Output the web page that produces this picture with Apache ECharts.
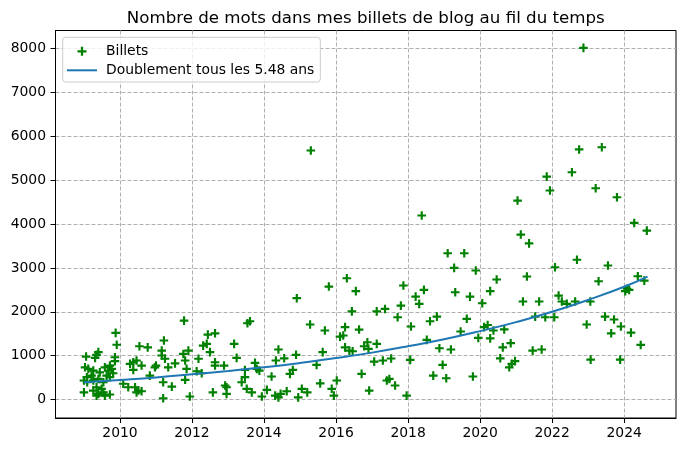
<!DOCTYPE html>
<html>
<head>
<meta charset="utf-8">
<script src="https://cdn.jsdelivr.net/npm/echarts@6/dist/echarts.min.js"></script>
<style>
html,body{margin:0;padding:0;background:#fff;}
#chart{width:685px;height:449px;}
</style>
</head>
<body>
<div id="chart"></div>
<script>
var titleText = 'Nombre de mots dans mes billets de blog au fil du temps';
var seriesNames = ['Billets', 'Doublement tous les 5.48 ans'];

var postYears = [
2009.88,2009.91,2010.54,2010.77,2009.40,2009.35,2009.06,2009.31,2009.86,2009.86,
2009.72,2009.58,2009.03,2009.12,2009.26,2009.44,2009.68,2009.77,2009.81,2009.63,
2009.72,2009.21,2009.08,2009.00,2009.09,2009.26,2009.40,2009.54,2009.00,2009.26,
2009.35,2009.49,2009.54,2009.40,2009.58,2009.72,2009.35,2010.28,2010.37,2010.46,
2010.60,2010.37,2011.00,2010.83,2010.09,2010.23,2010.42,2010.51,2010.46,2010.60,
2011.78,2011.22,2011.16,2011.16,2011.25,2011.53,2011.76,2011.90,2011.81,2012.44,
2012.64,2012.31,2012.41,2012.50,2012.18,2012.64,2012.64,2011.85,2012.13,2012.27,
2011.34,2010.97,2011.20,2011.44,2011.81,2011.20,2011.94,2012.58,
2016.44,2013.61,2013.54,2015.28,2015.69,2016.25,2016.20,2016.11,2016.64,2013.17,
2013.24,2014.40,2014.89,2014.33,2014.56,2015.63,2016.25,2016.37,2016.46,2016.78,
2016.87,2012.89,2013.75,2013.80,2013.87,2013.47,2013.47,2013.38,2014.21,2014.80,
2014.72,2015.46,2016.71,2016.02,2015.56,2012.92,2012.96,2012.96,2013.52,2013.66,
2014.08,2013.94,2014.31,2014.40,2014.46,2014.63,2015.05,2015.20,2014.95,2015.88,
2015.94,2016.92,2014.91,2015.80,2016.30,2016.55,2017.87,2018.21,2017.80,2017.36,
2015.30,2017.13,2018.31,2020.06,2017.71,2018.08,2018.61,2018.80,2019.63,2019.46,
2020.11,2020.21,2020.37,2020.67,2019.95,2020.28,2020.63,2020.85,2016.90,2017.13,
2018.52,2018.87,2019.19,2017.06,2017.30,2017.53,2018.06,2018.96,2018.70,2019.06,
2019.80,2020.56,2020.81,2020.88,2020.97,2017.41,2017.48,2017.64,2017.96,
2021.19,2021.64,2022.27,2022.41,2022.64,2023.06,2021.53,2021.81,2022.06,2022.96,
2023.47,2023.72,2023.91,2023.64,2024.19,2024.46,2021.46,2021.71,2023.07,2023.89,
2021.85,2022.55,2021.94,2021.04,2023.21,2023.80,2024.28,2024.63,2021.13,2021.36,
2022.69,2022.08,2023.55,2021.30,2023.29,2024.38,2024.56,2024.08,2024.03,2024.14,
2022.18,2018.38,2019.10,2019.56,2019.28,2019.88,2020.46,2018.44,2019.31,2019.72,
2020.28,2022.87,2022.75,2023.38
];
var postWords = [
1520,1250,1215,1190,1080,1020,980,950,965,875,
775,735,735,700,660,620,660,700,600,545,
510,545,510,435,395,435,470,395,165,205,
280,245,165,130,90,115,90,815,850,890,
775,675,775,545,360,280,280,205,165,190,
1800,1345,1115,1005,930,825,1040,1115,890,1480,
1510,1230,1270,1080,930,850,775,700,645,600,
735,735,395,295,450,30,70,165,
2010,1785,1740,1710,1575,1650,1460,1435,1595,1270,
950,1140,1020,890,940,1080,1190,1115,1100,1215,
1305,775,835,700,660,675,510,395,525,675,
585,790,585,435,370,320,280,130,245,165,
220,70,90,50,130,190,245,165,50,245,
90,205,2310,2575,2765,2470,2600,2345,2140,2065,
5675,2010,2180,2195,1875,1665,1785,1890,1840,1550,
1650,1700,1575,1600,1405,1395,1190,1285,1155,1270,
1360,1170,1140,865,890,935,905,790,545,485,
525,940,735,815,875,435,470,320,90,
2235,2235,2235,2180,2235,2235,1890,1875,1875,1710,
1890,1825,1665,1510,1525,1245,1115,1140,910,910,
5080,5180,4765,4535,4815,4610,4025,3850,3760,3560,
3185,3015,3055,2805,2695,2810,2710,2525,2470,2500,
2370,4195,3335,3335,3000,2940,2735,2500,2445,2345,
2470,8015,5700,5750
];

var fitYears = [2009.0,2010,2011,2012,2013,2014,2015,2016,2017,2018,2019,2020,2021,2022,2023,2024,2024.65];
var fitWords = [394,447,505,575,650,735,835,945,1070,1215,1375,1560,1765,2000,2270,2570,2800];

var xTickLabels = [2010,2012,2014,2016,2018,2020,2022,2024];
var yTickLabels = [0,1000,2000,3000,4000,5000,6000,7000,8000];

var postData = postYears.map(function(y,i){return [y, postWords[i]];});
var fitData = fitYears.map(function(y,i){return [y, fitWords[i]];});

var FONT = 'DejaVu Sans';
var plusPath = 'path://M0,3H8V5H0Z M3,0H5V8H3Z';
var linePath = 'path://M0,0H30V2H0Z';

var chart = echarts.init(document.getElementById('chart'), null, {renderer:'canvas'});
chart.setOption({
  animation:false,
  backgroundColor:'#fff',
  title:{
    text:titleText,
    left:360.75, textAlign:'center', top:5,
    textStyle:{fontFamily:FONT, fontSize:16.67, fontWeight:'normal', color:'#000'}
  },
  grid:{left:55.5, right:9, top:30.5, bottom:31, show:true, borderColor:'#000', borderWidth:1, backgroundColor:'transparent', containLabel:false},
  legend:{
    orient:'vertical', left:62.7, top:37.3,
    padding:[7,6,4.7,4.3], itemGap:5, itemWidth:30, itemHeight:9,
    backgroundColor:'rgba(255,255,255,0.8)', borderColor:'#cccccc', borderWidth:1, borderRadius:3,
    textStyle:{fontFamily:FONT, fontSize:13.9, color:'#000', padding:[0,0,0,4]},
    data:[{name:seriesNames[0], icon:plusPath}, {name:seriesNames[1], icon:linePath}]
  },
  xAxis:{
    type:'value', min:2008.21, max:2025.44,
    axisLine:{show:true, onZero:false, lineStyle:{color:'#000', width:1}},
    axisTick:{show:true, length:5, customValues:xTickLabels, lineStyle:{color:'#000', width:1}},
    axisLabel:{customValues:xTickLabels, color:'#000', fontFamily:FONT, fontSize:13.9, margin:8,
      formatter:function(v){return String(v);}},
    splitLine:{show:true, lineStyle:{color:'#b0b0b0', width:1, type:[4,2]}}
  },
  yAxis:{
    type:'value', min:-420, max:8410,
    axisLine:{show:true, onZero:false, lineStyle:{color:'#000', width:1}},
    axisTick:{show:true, length:5, customValues:yTickLabels, lineStyle:{color:'#000', width:1}},
    axisLabel:{customValues:yTickLabels, color:'#000', fontFamily:FONT, fontSize:13.9, margin:9.5,
      formatter:function(v){return String(v);}},
    splitLine:{show:true, lineStyle:{color:'#b0b0b0', width:1, type:[4,2]}}
  },
  series:[
    {name:seriesNames[0], type:'scatter', data:postData, symbol:plusPath, symbolSize:8.6,
     itemStyle:{color:'#008000', opacity:1}, z:2},
    {name:seriesNames[1], type:'line', data:fitData, showSymbol:false, symbol:'none', smooth:true,
     lineStyle:{color:'#1f77b4', width:2}, itemStyle:{color:'#1f77b4'}, z:3}
  ]
});
</script>
</body>
</html>
